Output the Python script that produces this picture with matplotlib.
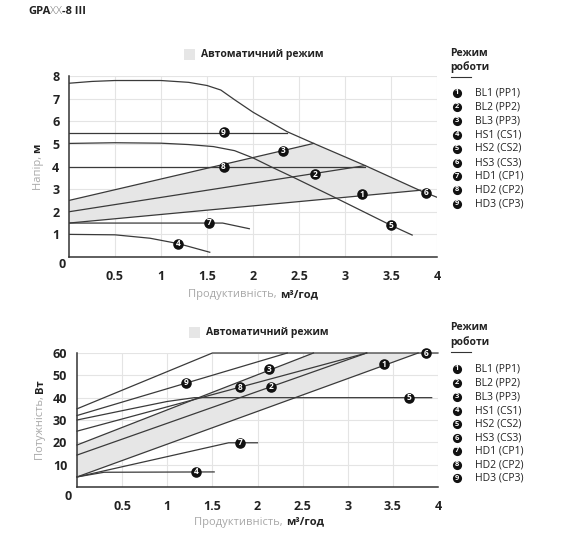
import matplotlib
matplotlib.use("Agg")
import matplotlib.pyplot as plt
from matplotlib.lines import Line2D
import numpy as np

plt.rcParams["font.family"] = ["Open Sans", "DejaVu Sans"]

W, H = 570, 536
LINE = "#3a3a3a"
GRID = "#e4e4e4"
SHADE = "#e6e6e6"
LABEL_GREY = "#a8a8a8"

# ---- head chart (H, m vs Q, m3/h) ----
h6_q = [0, 0.25, 0.5, 1.0, 1.3, 1.5, 1.65, 1.8, 2.0, 2.15, 2.37, 2.66, 3.22, 3.82, 4.0]
h6_h = [7.68, 7.76, 7.8, 7.8, 7.72, 7.58, 7.38, 6.95, 6.4, 6.05, 5.54, 5.02, 4.04, 2.93, 2.64]
h5_q = [0, 0.5, 1.0, 1.3, 1.57, 1.8, 2.0, 2.2, 2.44, 2.87, 3.5, 3.73]
h5_h = [5.02, 5.05, 5.03, 4.97, 4.88, 4.7, 4.38, 3.98, 3.52, 2.67, 1.40, 0.97]
h4_q = [0, 0.5, 0.88, 1.19, 1.53]
h4_h = [1.0, 0.98, 0.83, 0.59, 0.21]
h7_q = [0, 1.67, 1.96]
h7_h = [1.5, 1.5, 1.25]
h8_q = [0, 3.22]
h8_h = [4.0, 4.0]
h9_q = [0, 2.37]
h9_h = [5.5, 5.5]
h1_q = [0, 3.82]
h1_h = [1.5, 2.95]
h2_q = [0, 3.22]
h2_h = [2.0, 4.04]
h3_q = [0, 2.66]
h3_h = [2.5, 5.02]
head_marks = {1: (3.18, 2.78), 2: (2.67, 3.65), 3: (2.33, 4.70), 4: (1.19, 0.59),
              5: (3.50, 1.40), 6: (3.88, 2.84), 7: (1.52, 1.52), 8: (1.68, 3.99),
              9: (1.68, 5.51)}

# ---- power chart (P, W vs Q, m3/h) ----
p1_q = [0, 3.78]
p1_p = [4.5, 60]
p2_q = [0, 3.21]
p2_p = [14.3, 60]
p3_q = [0, 2.62]
p3_p = [18.8, 60]
p4_q = [0, 0.3, 1.52]
p4_p = [4.5, 6.6, 6.75]
p5_q = [0, 0.6, 1.0, 1.3, 3.93]
p5_p = [30, 35, 38.3, 40, 40]
p6_q = [0, 1.5, 4.0]
p6_p = [35, 60, 60]
p7_q = [0, 1.68, 2.0]
p7_p = [4.5, 19.8, 19.8]
p8_q = [0, 3.21]
p8_p = [25, 60]
p9_q = [0, 2.33]
p9_p = [32, 60]
power_marks = {1: (3.40, 55.0), 2: (2.15, 45.0), 3: (2.13, 52.8), 4: (1.32, 6.75),
               5: (3.68, 40.0), 6: (3.87, 60.0), 7: (1.81, 19.8), 8: (1.81, 44.7),
               9: (1.21, 46.6)}

x_ticks = [0.5, 1, 1.5, 2, 2.5, 3, 3.5, 4]
x_tick_labels = ["0.5", "1", "1.5", "2", "2.5", "3", "3.5", "4"]
mode_names = ["BL1 (PP1)", "BL2 (PP2)", "BL3 (PP3)", "HS1 (CS1)", "HS2 (CS2)",
              "HS3 (CS3)", "HD1 (CP1)", "HD2 (CP2)", "HD3 (CP3)"]


def fx(x):
    return x / W


def fy(y):
    return 1 - y / H


fig = plt.figure(figsize=(W / 100, H / 100), dpi=100)
renderer = fig.canvas.get_renderer()


def badge(x, y, n, transform, size=7.6, fs=6.0):
    fig.add_artist(Line2D([x], [y], marker="o", ms=size, mew=0, color="#111111",
                          transform=transform, zorder=6, clip_on=False))
    fig.text(x, y, str(n), color="white", fontsize=fs, fontweight="bold",
             ha="center", va="center", transform=transform, zorder=7)


def setup_axes(ax, ymax, ystep):
    ax.set_xlim(0, 4)
    ax.set_ylim(0, ymax)
    ax.set_xticks(x_ticks)
    ax.set_xticklabels(x_tick_labels)
    yt = list(range(ystep, ymax + 1, ystep))
    ax.set_yticks(yt)
    ax.set_yticklabels([str(v) for v in yt])
    ax.grid(True, color=GRID, lw=0.8)
    ax.set_axisbelow(True)
    for s in ["top", "right"]:
        ax.spines[s].set_visible(False)
    for s in ["left", "bottom"]:
        ax.spines[s].set_color("#333333")
        ax.spines[s].set_linewidth(1.1)
    ax.tick_params(length=0, labelsize=9, colors="#222222")
    ax.tick_params(axis="x", pad=9)
    ax.tick_params(axis="y", pad=7)
    for lab in ax.get_xticklabels() + ax.get_yticklabels():
        lab.set_fontweight("bold")


def two_part(x, y, a, b, rotation=0):
    """grey part followed by dark bold part, centred on (x, y) pixels"""
    t1 = fig.text(0, 0, a, fontsize=8, color=LABEL_GREY, rotation=rotation)
    t2 = fig.text(0, 0, b, fontsize=8, color="#222222", fontweight="bold", rotation=rotation)
    e1 = t1.get_window_extent(renderer)
    e2 = t2.get_window_extent(renderer)
    if rotation == 0:
        total = e1.width + e2.width
        x0 = x - total / 2
        t1.set_position((fx(x0), fy(y)))
        t1.set_va("center")
        t2.set_position((fx(x0 + e1.width), fy(y)))
        t2.set_va("center")
    else:
        total = e1.height + e2.height
        y0 = y + total / 2
        t1.set_position((fx(x), fy(y0)))
        t1.set_ha("center")
        t1.set_va("bottom")
        t2.set_position((fx(x), fy(y0 - e1.height)))
        t2.set_ha("center")
        t2.set_va("bottom")


# ---------------- head chart ----------------
ax1 = fig.add_axes([fx(69), fy(257), fx(437 - 69), (257 - 76) / H])
setup_axes(ax1, 8, 1)

# automatic-mode area: between BL1 and BL3, closed by the max curve
q6 = np.array(h6_q)
hh6 = np.array(h6_h)
sel = (q6 > h3_q[1]) & (q6 < h1_q[1])
poly_q = [h1_q[0], h1_q[1]] + list(q6[sel][::-1]) + [h3_q[1], h3_q[0]]
poly_h = [h1_h[0], h1_h[1]] + list(hh6[sel][::-1]) + [h3_h[1], h3_h[0]]
ax1.fill(poly_q, poly_h, color=SHADE, lw=0, zorder=1)

for q, h in [(h6_q, h6_h), (h5_q, h5_h), (h4_q, h4_h), (h7_q, h7_h), (h8_q, h8_h),
             (h9_q, h9_h), (h1_q, h1_h), (h2_q, h2_h), (h3_q, h3_h)]:
    ax1.plot(q, h, color=LINE, lw=0.9, zorder=3)
for n, (q, h) in head_marks.items():
    badge(q, h, n, ax1.transData)

# ---------------- power chart ----------------
ax2 = fig.add_axes([fx(77), fy(487), fx(438 - 77), (487 - 353) / H])
setup_axes(ax2, 60, 10)

poly_q = [p1_q[0], p1_q[1], p3_q[1], p3_q[0]]
poly_p = [p1_p[0], p1_p[1], p3_p[1], p3_p[0]]
ax2.fill(poly_q, poly_p, color=SHADE, lw=0, zorder=1)

for q, p in [(p1_q, p1_p), (p2_q, p2_p), (p3_q, p3_p), (p4_q, p4_p), (p5_q, p5_p),
             (p6_q, p6_p), (p7_q, p7_p), (p8_q, p8_p), (p9_q, p9_p)]:
    ax2.plot(q, p, color=LINE, lw=0.9, zorder=3, clip_on=False)
for n, (q, p) in power_marks.items():
    badge(q, p, n, ax2.transData)

# corner zeros
fig.text(fx(62), fy(264), "0", fontsize=9, fontweight="bold", color="#222222",
         ha="center", va="center")
fig.text(fx(68), fy(496), "0", fontsize=9, fontweight="bold", color="#222222",
         ha="center", va="center")

# axis titles
two_part(253, 295, "Продуктивність, ", "м³/год")
two_part(259, 522, "Продуктивність, ", "м³/год")
two_part(38, 167, "Напір, ", "м", rotation=90)
two_part(40, 420, "Потужність, ", "Вт", rotation=90)

# "automatic mode" keys
for sx, sy, tx in [(184, 49, 201), (189, 327, 206)]:
    fig.patches.append(plt.Rectangle((fx(sx), fy(sy + 11)), 11 / W, 11 / H,
                                     transform=fig.transFigure, color=SHADE, lw=0))
    fig.text(fx(tx), fy(sy + 5.5), "Автоматичний режим", fontsize=7.5,
             fontweight="bold", color="#222222", va="center")

# mode legends
for top, rows in [(53, [93, 107, 121, 135, 148.5, 162.5, 176, 189.5, 203.5]),
                  (328, [369, 383, 397, 411, 424, 438, 451, 465, 478])]:
    fig.text(fx(450), fy(top), "Режим", fontsize=7.5, fontweight="bold",
             color="#222222", va="center")
    fig.text(fx(450), fy(top + 14), "роботи", fontsize=7.5, fontweight="bold",
             color="#222222", va="center")
    fig.add_artist(Line2D([fx(451), fx(471)], [fy(top + 24), fy(top + 24)],
                          color="#333333", lw=0.8))
    for i, ry in enumerate(rows):
        badge(fx(457), fy(ry), i + 1, fig.transFigure, size=6.6, fs=5.4)
        fig.text(fx(475), fy(ry), mode_names[i], fontsize=7.5, color="#222222",
                 va="center")

# title
t_a = fig.text(fx(28), fy(12), "GPA", fontsize=8, fontweight="bold", color="#222222", va="center")
ea = t_a.get_window_extent(renderer)
t_b = fig.text(fx(28 + ea.width), fy(12), "XX", fontsize=8, fontweight="light",
               color="#777777", va="center")
eb = t_b.get_window_extent(renderer)
fig.text(fx(28 + ea.width + eb.width), fy(12), "-8 III", fontsize=8, fontweight="bold",
         color="#222222", va="center")

fig.savefig("out.png", dpi=100)
